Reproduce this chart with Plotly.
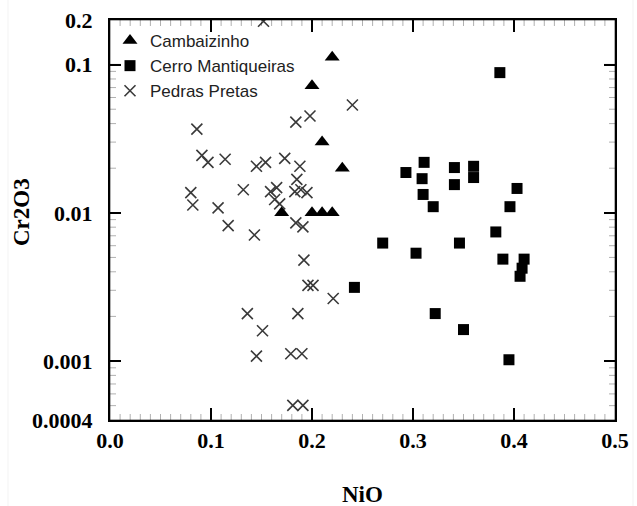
import math
import plotly.graph_objects as go

# ---- data ----
camb_x = [0.17, 0.20, 0.21, 0.22, 0.20, 0.22, 0.21, 0.23]
camb_y = [0.010, 0.010, 0.010, 0.010, 0.072, 0.112, 0.030, 0.020]

cerro_x = [0.386, 0.293, 0.311, 0.309, 0.310, 0.320, 0.341, 0.341, 0.360, 0.360,
           0.403, 0.396, 0.382, 0.270, 0.346, 0.303, 0.389, 0.410, 0.408, 0.406,
           0.242, 0.322, 0.350, 0.395]
cerro_y = [0.0883, 0.0187, 0.0219, 0.0170, 0.0133, 0.0110, 0.0202, 0.0155, 0.0206, 0.0173,
           0.0146, 0.0110, 0.00743, 0.00625, 0.00625, 0.00534, 0.00487, 0.00487, 0.00423, 0.00373,
           0.00314, 0.00209, 0.00163, 0.00102]

pedras_x = [0.152, 0.184, 0.198, 0.240, 0.086, 0.091, 0.097, 0.114, 0.145, 0.154,
            0.173, 0.188, 0.185, 0.132, 0.080, 0.082, 0.107, 0.117, 0.143, 0.159,
            0.165, 0.163, 0.168, 0.183, 0.189, 0.195, 0.184, 0.191, 0.192, 0.196,
            0.201, 0.221, 0.136, 0.151, 0.145, 0.186, 0.179, 0.190, 0.181, 0.191]
pedras_y = [0.196, 0.0409, 0.045, 0.0534, 0.0367, 0.0244, 0.0219, 0.0230, 0.0206, 0.0219,
            0.0233, 0.0206, 0.0168, 0.0143, 0.0137, 0.0113, 0.0108, 0.0082, 0.00708, 0.0139,
            0.0148, 0.0123, 0.0115, 0.0139, 0.0143, 0.0137, 0.00855, 0.00803, 0.00479, 0.00324,
            0.00324, 0.00264, 0.00209, 0.0016, 0.00108, 0.00209, 0.00112, 0.00112, 0.000502, 0.000502]

x_ticks = [0.0, 0.1, 0.2, 0.3, 0.4, 0.5]
x_ticktext = ["0.0", "0.1", "0.2", "0.3", "0.4", "0.5"]
y_ticks = [0.0004, 0.001, 0.01, 0.1, 0.2]
y_ticktext = ["0.0004", "0.001", "0.01", "0.1", "0.2"]

# ---- figure ----
W, H = 637, 506
L, R, T, B = 110, 22, 20, 86
PW, PH = W - L - R, H - T - B
XR = [0, 0.5]
YR = [math.log10(0.0004), math.log10(0.2)]

fig = go.Figure()
fig.add_trace(go.Scatter(x=camb_x, y=camb_y, mode="markers", name="Cambaizinho",
                         marker=dict(symbol="triangle-up", size=13, color="black")))
fig.add_trace(go.Scatter(x=cerro_x, y=cerro_y, mode="markers", name="Cerro Mantiqueiras",
                         marker=dict(symbol="square", size=11, color="black")))
fig.add_trace(go.Scatter(x=pedras_x, y=pedras_y, mode="markers", name="Pedras Pretas",
                         marker=dict(symbol="x-thin-open", size=11, color="#3a3a3a",
                                     line=dict(color="#3a3a3a", width=1.6))))

tickfont = dict(family="Liberation Serif, Times New Roman, serif", size=22, color="black")

minor_x = [i / 100 for i in range(1, 50) if i % 10]
minor_y = [k * 10 ** e for e in range(-4, 0) for k in range(2, 10)
           if 0.0004 < k * 10 ** e < 0.2]

fig.update_layout(
    xaxis=dict(range=XR, tickmode="array", tickvals=x_ticks,
               ticktext=["<b>%s</b>" % t for t in x_ticktext],
               ticks="inside", ticklen=12, tickwidth=1.5, tickcolor="black",
               showline=True, linecolor="black", linewidth=2, mirror="ticks",
               showgrid=False, zeroline=False, tickfont=tickfont),
    yaxis=dict(type="log", range=YR, tickmode="array", tickvals=y_ticks,
               ticktext=["<b>%s</b>\u00a0\u00a0" % t for t in y_ticktext],
               ticks="inside", ticklen=11, tickwidth=1.5, tickcolor="black",
               showline=True, linecolor="black", linewidth=2, mirror="ticks",
               showgrid=False, zeroline=False, tickfont=tickfont),
)

def px_x(p):
    return (p - L) / PW

def px_y(p):
    return (H - B - p) / PH

def ylog_paper(v):
    return (math.log10(v) - YR[0]) / (YR[1] - YR[0])

# frame (four lines, no fill) and inside tick marks on all four sides
frame = dict(color="black", width=2)
shapes = [
    dict(type="line", xref="paper", yref="paper", x0=0, x1=1, y0=0, y1=0, line=frame),
    dict(type="line", xref="paper", yref="paper", x0=0, x1=1, y0=1, y1=1, line=frame),
    dict(type="line", xref="paper", yref="paper", x0=0, x1=0, y0=0, y1=1, line=frame),
    dict(type="line", xref="paper", yref="paper", x0=1, x1=1, y0=0, y1=1, line=frame),
]
for vals, ln, wd in ((x_ticks[1:-1], 12, 1.5), (minor_x, 6, 1)):
    for v in vals:
        for y0, sgn in ((0, 1), (1, -1)):
            shapes.append(dict(type="line", xref="x", yref="paper", x0=v, x1=v,
                               y0=y0, y1=y0 + sgn * ln / PH,
                               line=dict(color="black", width=wd)))
for vals, ln, wd in (([0.001, 0.01, 0.1], 11, 1.5), (minor_y, 6, 1)):
    for v in vals:
        yp = ylog_paper(v)
        for x0, sgn in ((0, 1), (1, -1)):
            shapes.append(dict(type="line", xref="paper", yref="paper",
                               x0=x0, x1=x0 + sgn * ln / PW, y0=yp, y1=yp,
                               line=dict(color="black", width=wd)))
# faint screenshot border lines
for xp in (8, 633):
    shapes.append(dict(type="line", xref="paper", yref="paper",
                       x0=px_x(xp), x1=px_x(xp), y0=px_y(0), y1=px_y(H),
                       line=dict(color="#dddddd", width=1)))
fig.update_layout(shapes=shapes)

titlefont = dict(family="Liberation Serif, Times New Roman, serif", size=23, color="black")
fig.add_annotation(text="<b>NiO</b>", xref="paper", yref="paper", x=px_x(362), y=px_y(494),
                   showarrow=False, font=titlefont, xanchor="center", yanchor="middle")
fig.add_annotation(text="<b>Cr2O3</b>", xref="paper", yref="paper", x=px_x(21), y=px_y(212),
                   showarrow=False, font=titlefont, textangle=-90,
                   xanchor="center", yanchor="middle")

fig.update_layout(
    template="simple_white",
    width=W, height=H,
    margin=dict(l=L, r=R, t=T, b=B, autoexpand=False),
    paper_bgcolor="white", plot_bgcolor="white",
    showlegend=True,
    legend=dict(x=0.0, y=0.9925, xanchor="left", yanchor="top",
                bgcolor="rgba(0,0,0,0)",
                font=dict(family="Liberation Sans, Arial, sans-serif", size=17,
                          color="#222222"),
                itemwidth=30, tracegroupgap=0),
)

fig.write_html("out.html", config={"displayModeBar": False},
               post_script="document.body.style.margin='0';document.body.style.padding='0';")
